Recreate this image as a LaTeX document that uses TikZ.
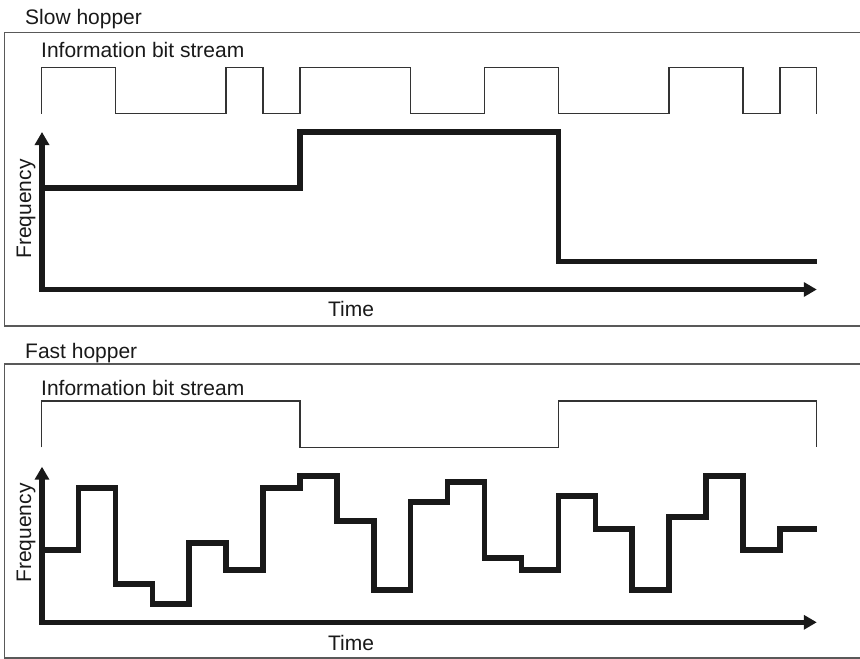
\documentclass[tikz,border=0pt]{standalone}
\usepackage{fontspec}
\setmainfont{Liberation Sans}
\usetikzlibrary{arrows.meta}

\begin{document}
\begin{tikzpicture}[x=1pt, y=-1pt,
                every node/.style={font=\fontsize{21}{25}\selectfont, text=black!90, inner sep=0pt},
                panel/.style={draw=black!65, line width=1.4pt},
                bits/.style={draw=black!80, line width=1.3pt},
                axis/.style={draw=black!90, line width=5.5pt, line join=miter,
                             {Triangle[length=13pt,width=14pt]}-{Triangle[length=13pt,width=14pt]}},
                hop/.style={draw=black!90, line width=5.5pt, line join=miter}]

                \useasboundingbox (0,0) rectangle (860,659);

                % Slow hopper
                \node[anchor=base west] (slowtitle) at (25,24) {Slow hopper};
                \draw[panel] (860,32.5) -- (4.5,32.5) -- (4.5,326) -- (860,326);
                \node[anchor=base west] (slowbits) at (41,57) {Information bit stream};
                \draw[bits] (41.5,113.5) |- (115.3,67.5) |- (226.1,113.5) |- (263,67.5) |- (299.9,113.5)
                    |- (410.7,67.5) |- (484.5,113.5) |- (558.4,67.5) |- (669.1,113.5) |- (743,67.5)
                    |- (779.9,113.5) |- (816.8,67.5) -- (816.8,113.5);
                \draw[axis] (42,132) -- (42,289.5) -- (816.8,289.5);
                \draw[hop] (42,188) -| (300,132) -| (558.3,261.3) -- (816.8,261.3);
                \node[anchor=base, rotate=90] (slowfreq) at (31,209) {Frequency};
                \node[anchor=base] (slowtime) at (351,316.5) {Time};

                % Fast hopper
                \node[anchor=base west] (fasttitle) at (25,358) {Fast hopper};
                \draw[panel] (860,364) -- (4.5,364) -- (4.5,658) -- (860,658);
                \node[anchor=base west] (fastbits) at (41,395) {Information bit stream};
                \draw[bits] (41.5,447.3) |- (299.9,401) |- (558.4,447.3) |- (816.8,401) -- (816.8,447.3);
                \draw[axis] (42,466.7) -- (42,622.3) -- (816.8,622.3);
                \draw[hop] (42,550) -| (78.4,488) -| (115.3,584) -| (152.3,604) -| (189.2,543)
                    -| (226.1,570) -| (263,488) -| (299.9,476) -| (336.9,521) -| (373.8,590)
                    -| (410.7,502) -| (447.6,482) -| (484.5,558) -| (521.5,570) -| (558.4,496)
                    -| (595.3,529) -| (632.2,590) -| (669.1,517) -| (706.1,476) -| (743,550)
                    -| (779.9,529) -- (816.8,529);
                \node[anchor=base, rotate=90] (fastfreq) at (31,533) {Frequency};
                \node[anchor=base] (fasttime) at (351,650) {Time};
            \end{tikzpicture}
\end{document}
